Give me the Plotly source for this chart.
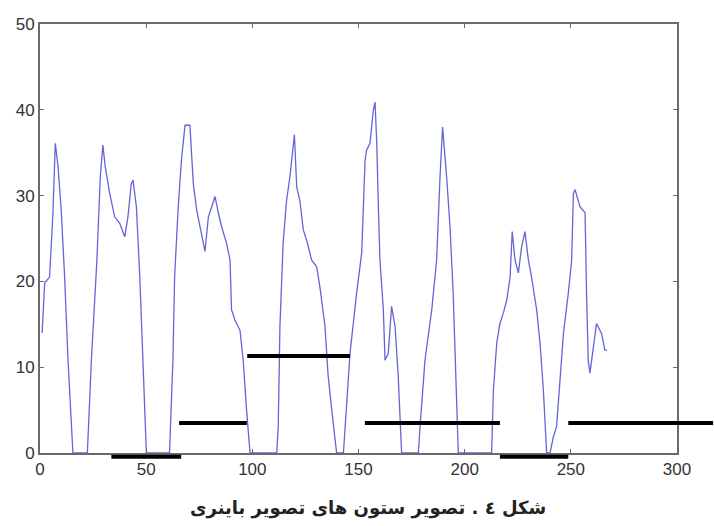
import plotly.graph_objects as go

# ---- data ----
line_x = [1, 2.2, 4.5, 6.1, 7.2, 8.5, 10, 11.6, 13.2, 15.5, 22.3, 24.2, 26.8, 28.4, 29.6,
          30.7, 32.8, 35.2, 37.5, 39.9, 41.4, 43, 43.8, 45.4, 47, 48.5, 50.1, 61, 62.6,
          63.4, 65, 66.6, 68.3, 70.6, 72.2, 73.8, 76.1, 77.7, 79.3, 80.8, 82.4, 84, 85.5,
          87.9, 89.5, 90.2, 91.8, 94.2, 95.7, 97.3, 98.9, 111.5, 112.2, 113, 114.5, 116.1,
          117.7, 119.8, 120.9, 122.4, 124, 125.6, 127.9, 130.3, 131.8, 134.2, 135.7, 137.4,
          139.7, 142.9, 146, 149.1, 151.5, 153.1, 153.8, 155.4, 157, 157.8, 158.6, 159.4,
          160.1, 161.7, 162.5, 164, 164.8, 165.6, 167.2, 168.7, 170.3, 178.2, 179, 181.3,
          184.5, 186.8, 188.4, 189.6, 191.5, 193.1, 194.6, 196.2, 197, 212.7, 213.5, 215.1,
          216.6, 218.2, 219.8, 221.4, 222.4, 223.7, 225.3, 226.8, 228.4, 230, 231.5, 233.9,
          235.5, 237.1, 238.6, 240.2, 241.8, 243.3, 244.9, 246.5, 248.8, 250.4, 251.2, 252,
          254.3, 256.7, 257.4, 258.2, 259, 260.6, 262.1, 264.5, 266, 267]
line_y = [14.0, 19.8, 20.5, 28.0, 36.1, 33.4, 28.3, 20.5, 10.8, 0, 0, 10.8, 22.5, 32.2, 35.9,
          33.4, 30.3, 27.5, 26.8, 25.2, 27.5, 31.4, 31.8, 28.7, 20.5, 10.8, 0, 0, 10.8,
          20.5, 28.3, 34.1, 38.2, 38.2, 31.4, 28.3, 25.2, 23.5, 27.5, 28.7, 29.9, 28.0, 26.4,
          24.4, 22.5, 16.7, 15.5, 14.3, 10.8, 5.0, 0, 0, 3.1, 14.8, 24.4, 29.4,
          32.2, 37.1, 31.0, 29.4, 26.0, 24.8, 22.5, 21.7, 19.4, 14.8, 9.0, 5.0,
          0, 0, 11.6, 18.6, 23.3, 34.1, 35.3, 36.1, 40.0, 40.9, 36.1, 28.3,
          22.5, 16.7, 10.8, 11.6, 14.8, 17.1, 14.8, 9.0, 0, 0, 3.1, 10.8,
          16.7, 22.5, 32.2, 38.0, 32.2, 26.4, 18.6, 7.2, 0, 0, 7.2, 12.8,
          15.1, 16.3, 17.8, 20.5, 25.8, 22.5, 21.0, 24.0, 25.8, 22.5, 20.5, 16.7,
          12.8, 7.2, 0, 0, 1.9, 3.1, 9.0, 13.9, 18.6, 22.5, 30.2, 30.7,
          28.7, 28.0, 18.6, 10.8, 9.3, 12.0, 15.1, 13.9, 12.0, 12.0]

seg_x0 = [33.6, 65.5, 97.6, 153.0, 216.6, 248.8]
seg_x1 = [66.5, 97.4, 146.0, 216.6, 248.8, 317.0]
seg_y = [-0.43, 3.5, 11.3, 3.5, -0.43, 3.5]

x_ticks = [0, 50, 100, 150, 200, 250, 300]
y_ticks = [0, 10, 20, 30, 40, 50]
caption = "<b>شکل ٤ . تصویر ستون های تصویر باینری</b>"

# ---- geometry (pixels) ----
W, H = 714, 526
PL, PR, PT, PB = 40, 677, 24, 453      # axes box
PAPER_R, PAPER_B = 714, 462            # paper extents (for the overflow layer)
pw, ph = PAPER_R - PL, PAPER_B - PT
xmax, ymax = 300, 50
x2max = xmax * pw / (PR - PL)
y2min = -ymax * (PAPER_B - PB) / (PB - PT)

fig = go.Figure()
fig.add_trace(go.Scatter(x=line_x, y=line_y, mode="lines",
                         line=dict(color="#6464d6", width=1.3),
                         xaxis="x", yaxis="y", showlegend=False, hoverinfo="skip"))
for a, b, yv in zip(seg_x0, seg_x1, seg_y):
    fig.add_trace(go.Scatter(x=[a, b], y=[yv, yv], mode="lines",
                             line=dict(color="black", width=4),
                             xaxis="x2", yaxis="y2", showlegend=False, hoverinfo="skip"))

tickfont = dict(family="Liberation Sans, Arial, sans-serif", size=17, color="#333333")
axis_common = dict(showgrid=False, zeroline=False, showline=True, linecolor="#6a6a6a",
                   linewidth=2, mirror="ticks", ticks="inside", ticklen=4, tickwidth=1,
                   tickcolor="#6a6a6a", tickfont=tickfont, automargin=False)

fig.update_layout(
    width=W, height=H,
    margin=dict(l=PL, r=W - PAPER_R, t=PT, b=H - PAPER_B, pad=0, autoexpand=False),
    paper_bgcolor="white", plot_bgcolor="rgba(0,0,0,0)",
    xaxis=dict(domain=[0, (PR - PL) / pw], range=[0, xmax], tickvals=x_ticks,
               anchor="y", **axis_common),
    yaxis=dict(domain=[(PAPER_B - PB) / ph, 1], range=[0, ymax], tickvals=y_ticks,
               anchor="x", **axis_common),
    xaxis2=dict(domain=[0, 1], range=[0, x2max], visible=False, anchor="y2",
                automargin=False),
    yaxis2=dict(domain=[0, 1], range=[y2min, ymax], visible=False, anchor="x2",
                automargin=False),
    annotations=[dict(text=caption, xref="paper", yref="paper",
                      x=(368 - PL) / pw, y=(PAPER_B - 508) / ph,
                      xanchor="center", yanchor="middle", showarrow=False,
                      font=dict(family="DejaVu Sans", size=18, color="#222222"))],
)

fig.write_html("out.html", config={"displayModeBar": False},
               post_script="document.body.style.margin='0';document.body.style.overflow='hidden';")
